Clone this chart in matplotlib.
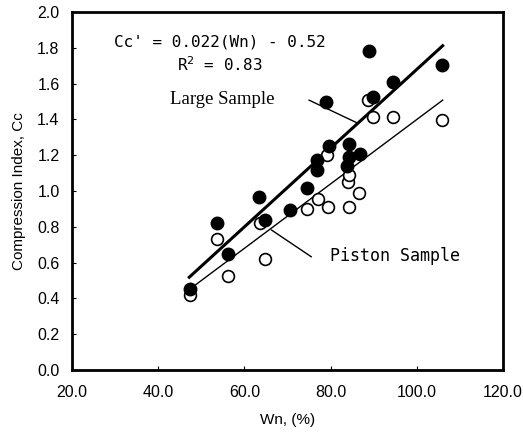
import matplotlib
matplotlib.use("Agg")
import matplotlib.pyplot as plt
import numpy as np

# Large sample (filled)
large_wn = [47.4, 53.6, 56.1, 63.4, 64.8, 70.6, 74.6, 76.8, 76.8, 78.9, 79.6, 83.9, 84.3, 84.3, 86.8, 89.0, 89.8, 94.4, 105.8]
large_cc = [0.45, 0.82, 0.65, 0.965, 0.84, 0.894, 1.015, 1.117, 1.173, 1.495, 1.253, 1.14, 1.192, 1.263, 1.205, 1.782, 1.527, 1.607, 1.702]

# Piston sample (open)
piston_wn = [47.4, 53.7, 56.1, 63.5, 64.8, 74.6, 77.0, 79.1, 79.5, 84.0, 84.3, 84.3, 86.7, 88.7, 89.8, 94.5, 105.8]
piston_cc = [0.419, 0.73, 0.525, 0.819, 0.62, 0.897, 0.957, 1.201, 0.913, 1.052, 1.089, 0.909, 0.987, 1.508, 1.415, 1.415, 1.397]

# Regression lines (slope, intercept) and extents
large_fit = (0.022, -0.52)
piston_fit = (0.018, -0.40)
large_range = [47.2, 106.0]
piston_range = [48.4, 106.0]

xticks = [20, 40, 60, 80, 100, 120]
yticks = [0.0, 0.2, 0.4, 0.6, 0.8, 1.0, 1.2, 1.4, 1.6, 1.8, 2.0]

plt.rcParams['font.family'] = ['Liberation Sans', 'DejaVu Sans']

fig = plt.figure(figsize=(5.23, 4.32), dpi=100)
ax = fig.add_axes([0.1377, 0.1435, 0.9618 - 0.1377, 0.972 - 0.1435])

xl = np.array(large_range)
ax.plot(xl, large_fit[0] * xl + large_fit[1], color='black', lw=2.2, zorder=2)
xp = np.array(piston_range)
ax.plot(xp, piston_fit[0] * xp + piston_fit[1], color='black', lw=1.0, zorder=2)

ax.plot(piston_wn, piston_cc, 'o', ms=8.5, mfc='white', mec='black', mew=1.2, zorder=3)
ax.plot(large_wn, large_cc, 'o', ms=9, mfc='black', mec='black', zorder=4)

# leader lines
ax.plot([75.0, 86.4], [1.508, 1.378], color='black', lw=1.0, zorder=2)
ax.plot([66.3, 75.5], [0.782, 0.633], color='black', lw=1.0, zorder=2)

mono = ['DejaVu Sans Mono']
ax.text(54.3, 1.834, "Cc' = 0.022(Wn) - 0.52", ha='center', va='center', fontsize=11.5, family=mono)
ax.text(54.3, 1.704, "R$^2$ = 0.83", ha='center', va='center', fontsize=11.5, family=mono)
ax.text(54.8, 1.514, "Large Sample", ha='center', va='center', fontsize=13.5,
        family=['Liberation Serif', 'DejaVu Serif'])
ax.text(79.9, 0.637, "Piston Sample", ha='left', va='center', fontsize=12, family=mono)

ax.set_xlim(20, 120)
ax.set_ylim(0, 2.0)
ax.set_xticks(xticks)
ax.set_xticklabels([f"{v:.1f}" for v in xticks])
ax.set_yticks(yticks)
ax.set_yticklabels([f"{v:.1f}" for v in yticks])
ax.tick_params(direction='in', length=3, width=0.8, labelsize=11.5)
ax.tick_params(axis='x', pad=11)
ax.tick_params(axis='y', pad=9)
for s in ax.spines.values():
    s.set_linewidth(2.0)

ax.set_xlabel("Wn, (%)", fontsize=11, labelpad=9)
ax.set_ylabel("Compression Index, Cc", fontsize=11, labelpad=8)

fig.savefig("out.png", dpi=100)
